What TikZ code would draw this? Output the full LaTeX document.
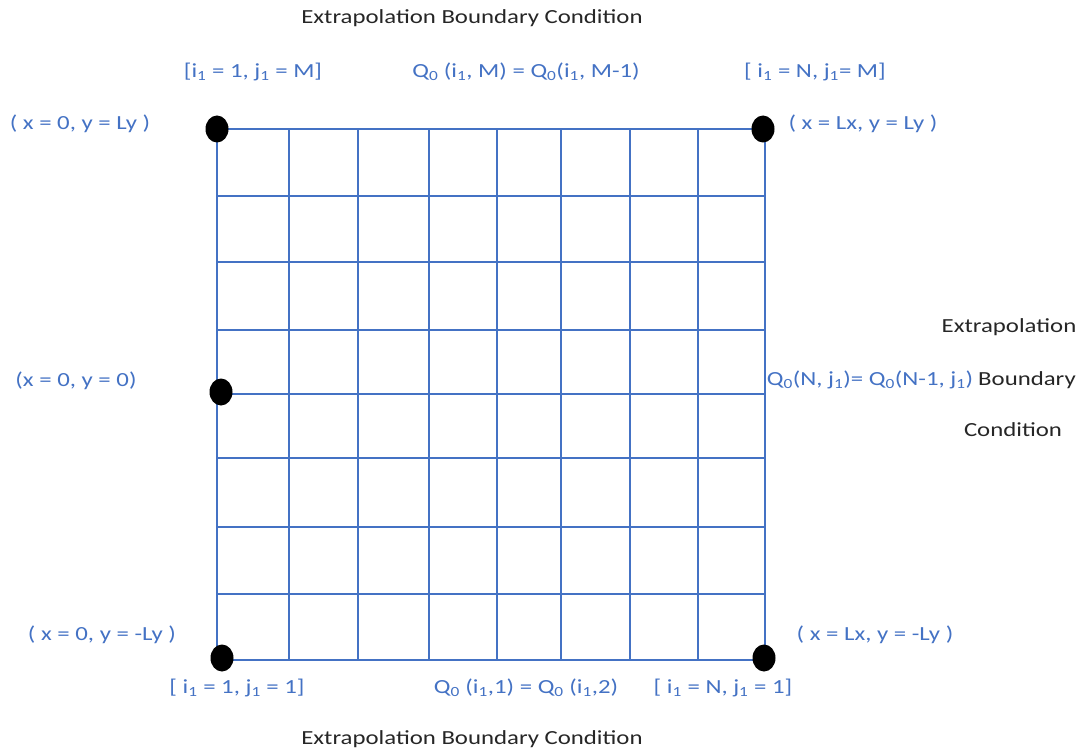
\documentclass[tikz,border=0pt]{standalone}
\usepackage{fontspec}
\setmainfont{Carlito}[FakeStretch=1.24]
\usetikzlibrary{shapes.geometric}
\definecolor{gridblue}{HTML}{4472C4}
\definecolor{notegrey}{HTML}{262626}
\newcommand{\lo}[1]{\textsubscript{#1}}
\tikzset{
    gridline/.style={draw=gridblue, line width=1.3pt},
    dot/.style={ellipse, fill=black, minimum width=23pt, minimum height=27pt, inner sep=0pt},
    bluelabel/.style={text=gridblue, inner sep=0pt, font=\fontsize{20}{24}\selectfont},
    notelabel/.style={text=notegrey, inner sep=0pt, font=\fontsize{20}{24}\selectfont}
}

\begin{document}
\begin{tikzpicture}[x=1pt, y=-1pt]
\useasboundingbox (0,0) rectangle (1092,754);

% mesh
\foreach \xx in {217,289,358,429,497,561,630,698,765}
    \draw[gridline] (\xx,129) -- (\xx,660);
\foreach \yy in {129,196,262,330,394,458,527,594,660}
    \draw[gridline] (217,\yy) -- (765,\yy);

% corner and mid points
\node[dot] (ptl) at (217,129) {};
\node[dot] (ptr) at (763,129) {};
\node[dot] (pml) at (221,392) {};
\node[dot] (pbl) at (222,658) {};
\node[dot] (pbr) at (764,658) {};

\node[notelabel] (toptitle) at (472,18) {Extrapolation Boundary Condition};
\node[bluelabel] (tlidx) at (253,72) {[i\lo{1} = 1, j\lo{1} = M]};
\node[bluelabel] (topbc) at (526,72) {Q\lo{0} (i\lo{1}, M) = Q\lo{0}(i\lo{1}, M-1)};
\node[bluelabel] (tridx) at (815,72) {[ i\lo{1} = N, j\lo{1}= M]};
\node[bluelabel] (tlpos) at (80,124) {( x = 0, y = Ly )};
\node[bluelabel] (trpos) at (863,124) {( x = Lx, y = Ly )};

\node[notelabel] (rext) at (1009,327) {Extrapolation};
\node[bluelabel] (rightbc) at (870,380) {Q\lo{0}(N, j\lo{1})= Q\lo{0}(N-1, j\lo{1})};
\node[notelabel] (rbnd) at (1027,380) {Boundary};
\node[notelabel] (rcond) at (1013,430) {Condition};
\node[bluelabel] (mlpos) at (76,381) {(x = 0, y = 0)};

\node[bluelabel] (blpos) at (102,635) {( x = 0, y = -Ly )};
\node[bluelabel] (brpos) at (875,635) {( x = Lx, y = -Ly )};
\node[bluelabel] (blidx) at (237,688) {[ i\lo{1} = 1, j\lo{1} = 1]};
\node[bluelabel] (botbc) at (526,688) {Q\lo{0} (i\lo{1},1) = Q\lo{0} (i\lo{1},2)};
\node[bluelabel] (bridx) at (723,688) {[ i\lo{1} = N, j\lo{1} = 1]};
\node[notelabel] (bottitle) at (472,739) {Extrapolation Boundary Condition};
\end{tikzpicture}
\end{document}
